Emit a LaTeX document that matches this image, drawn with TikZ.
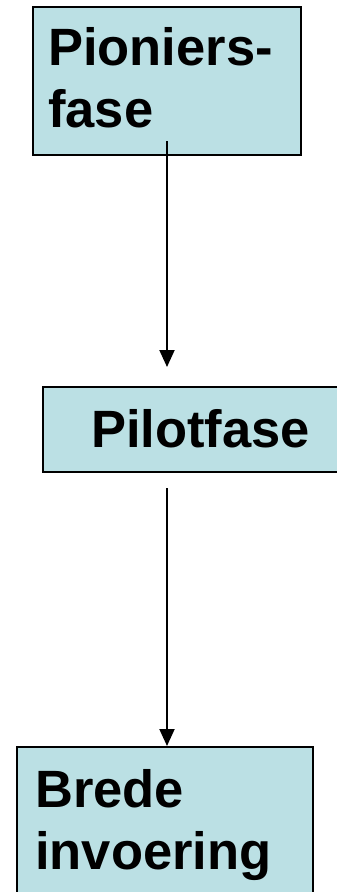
\documentclass[tikz,border=0pt]{standalone}
\usepackage{fontspec}
\setmainfont{Liberation Sans}
\usetikzlibrary{arrows.meta}
\definecolor{boxfill}{RGB}{187,224,228}
\tikzset{
  box/.style={draw=black, line width=2pt, fill=boxfill, rectangle, inner sep=0pt, anchor=north west},
  lbl/.style={font=\fontsize{52.5}{62.5}\bfseries\selectfont, align=left, inner sep=0pt, anchor=north west},
  arr/.style={line width=2pt, -{Triangle[width=15pt,length=17pt]}}
}
\begin{document}
\begin{tikzpicture}[x=1pt,y=-1pt]
\useasboundingbox (0,0) rectangle (337,892);
\clip (0,0) rectangle (337,892);
\node[box, minimum width=268pt, minimum height=148pt] (b1) at (32,6) {};
\node[box, minimum width=320pt, minimum height=85pt] (b2) at (42,386) {};
\node[box, minimum width=296pt, minimum height=200pt] (b3) at (16,746) {};
\node[lbl] (t1) at (48,27) {Pioniers-\\fase};
\node[lbl] (t2) at (91,409.5) {Pilotfase};
\node[lbl] (t3) at (35,769) {Brede\\invoering};
\coordinate (s1) at (167,141);
\coordinate (e1) at (167,367);
\coordinate (s2) at (167,488);
\draw[arr] (s1) -- (e1);
\draw[arr] (s2) -- (s2 |- b3.north);
\end{tikzpicture}
\end{document}
